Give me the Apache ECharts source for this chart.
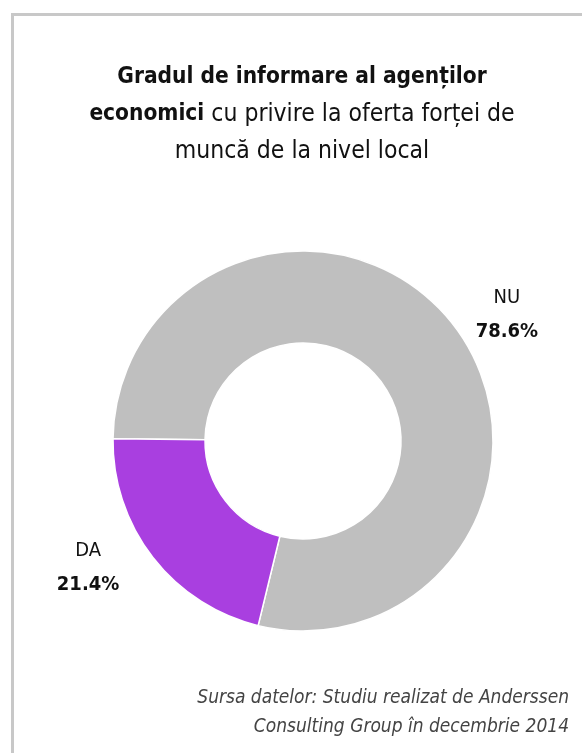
<!DOCTYPE html>
<html>
<head>
<meta charset="utf-8">
<script src="https://cdn.jsdelivr.net/npm/echarts@6/dist/echarts.min.js"></script>
<style>
  html, body { margin: 0; padding: 0; background: #fff; overflow: hidden; }
  #frame {
    position: absolute; left: 11px; top: 13px; width: 700px; height: 900px;
    border-top: 3px solid #c8c8c8; border-left: 3px solid #c8c8c8;
  }
  #chart { position: absolute; left: 0; top: 0; width: 582px; height: 753px; }
</style>
</head>
<body>
<div id="frame"></div>
<div id="chart"></div>
<script>
const FONT = "'Liberation Sans Narrow', 'DejaVu Sans Condensed', sans-serif"

const categories = ['NU', 'DA']
const values = [78.6, 21.4]
const colors = ['#bfbfbf', '#a93fe0']
// distanta eticheta fata de capatul liniei (stanga e putin mai departe)
const labelGap = [3, 14]

const chart = echarts.init(document.getElementById('chart'), null, { renderer: 'canvas' })

const option = {
  backgroundColor: 'transparent',
  animation: false,
  title: [
    {
      left: 297,
      top: 54,
      textAlign: 'center',
      text: '{b|Gradul de informare al agenților}\n{b|economici}{n| cu privire la oferta forței de}\n{n|muncă de la nivel local}',
      textStyle: {
        fontWeight: 'normal',
        rich: {
          b: { fontFamily: FONT, fontSize: 22.5, fontWeight: 'bold', color: '#111', lineHeight: 37 },
          n: { fontFamily: FONT, fontSize: 24.5, fontWeight: 'normal', color: '#111', lineHeight: 37 }
        }
      }
    },
    {
      left: 564,
      top: 679,
      textAlign: 'right',
      text: 'Sursa datelor: Studiu realizat de Anderssen\nConsulting Group în decembrie 2014',
      textStyle: {
        fontFamily: FONT,
        fontSize: 19,
        fontStyle: 'italic',
        fontWeight: 'normal',
        color: '#444',
        lineHeight: 29
      }
    }
  ],
  series: [
    {
      type: 'pie',
      center: [303, 441],
      radius: [98, 190],
      startAngle: 179.3,
      clockwise: true,
      avoidLabelOverlap: false,
      itemStyle: { borderColor: '#fff', borderWidth: 1.5 },
      emphasis: { disabled: true },
      label: {
        show: true,
        position: 'outside',
        formatter: (p) => '{n|' + p.name + '}\n{b|' + p.value.toFixed(1) + '%}',
        rich: {
          n: { fontFamily: FONT, fontSize: 20, color: '#111', align: 'center', lineHeight: 34 },
          b: { fontFamily: FONT, fontSize: 20, fontWeight: 'bold', color: '#111', align: 'center', lineHeight: 34 }
        }
      },
      labelLine: { show: false, length: 16, length2: 7 },
      data: categories.map((name, i) => ({
        name: name,
        value: values[i],
        itemStyle: { color: colors[i] },
        label: { distanceToLabelLine: labelGap[i] }
      }))
    }
  ]
}

chart.setOption(option)
</script>
</body>
</html>
